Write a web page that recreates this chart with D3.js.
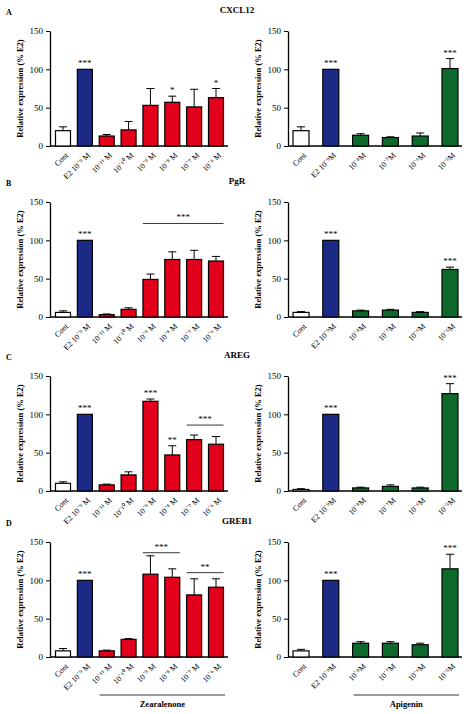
<!DOCTYPE html>
<html><head><meta charset="utf-8">
<script src="https://cdn.jsdelivr.net/npm/d3@7"></script>
<style>body{margin:0;background:#fff}text{font-family:"Liberation Serif","Times New Roman",serif}</style>
</head><body>
<script>
// categories
var leftCats = ['Cont', 'E2 10⁻⁹ M', '10⁻¹¹ M', '10⁻¹⁰ M', '10⁻⁹ M', '10⁻⁸ M', '10⁻⁷ M', '10⁻⁶ M'];
var rightCats = ['Cont', 'E2 10⁻⁹M', '10⁻⁸M', '10⁻⁷M', '10⁻⁶M', '10⁻⁵M'];
var genes = ['CXCL12', 'PgR', 'AREG', 'GREB1'];
var letters = ['A', 'B', 'C', 'D'];
var yTicks = [0, 50, 100, 150];

// left panels (zearalenone) mean / sem / star
var leftMean = [
    [20, 100, 13, 21, 53, 57, 51, 63],
    [6, 100, 3, 10, 49, 75, 75, 73],
    [10, 100, 8, 21, 117, 47, 67, 61],
    [8, 100, 8, 23, 108, 104, 81, 91]
];
var leftErr = [
    [5, 0, 2, 11, 22, 8, 23, 12],
    [2, 0, 1, 2, 7, 10, 12, 6],
    [2, 0, 1, 4, 3, 12, 6, 10],
    [3, 0, 1, 1, 24, 11, 21, 11]
];
var leftStar = [
    ['', '***', '', '', '', '*', '', '*'],
    ['', '***', '', '', '', '', '', ''],
    ['', '***', '', '', '***', '**', '', ''],
    ['', '***', '', '', '', '', '', '']
];
// bracket lines: [row, from index, to index, label, y value]
var leftLines = [
    [1, 4, 7, '***', 122],
    [2, 6, 7, '***', 86],
    [3, 4, 5, '***', 136],
    [3, 6, 7, '**', 110]
];

// right panels (apigenin)
var rightMean = [
    [20, 100, 14, 11, 13, 101],
    [6, 100, 8, 9, 6, 62],
    [2, 100, 4, 6, 4, 127],
    [8, 100, 18, 18, 16, 115]
];
var rightErr = [
    [5, 0, 2, 1, 4, 13],
    [1, 0, 1, 1, 1, 3],
    [1, 0, 1, 2, 1, 13],
    [2, 0, 2, 2, 2, 19]
];
var rightStar = [
    ['', '***', '', '', '', '***'],
    ['', '***', '', '', '', '***'],
    ['', '***', '', '', '', '***'],
    ['', '***', '', '', '', '***']
];

var W = 474, H = 714;
var rowTop = [31, 202, 376, 542];
var plotH = 115;
var blue = '#1b2a85', red = '#e2001a', green = '#0d6a2c';

var svg = d3.select('body').append('svg').attr('width', W).attr('height', H);

genes.forEach(function (g, r) {

    var titleY = rowTop[r] - 18;
    svg.append('text').attr('x', 237).attr('y', titleY).attr('text-anchor', 'middle')
        .attr('font-size', 9).attr('font-weight', 'bold').text(g);
    svg.append('text').attr('x', 6).attr('y', titleY + 2).attr('font-size', 8)
        .attr('font-weight', 'bold').text(letters[r]);

    panel(r, leftCats, leftMean[r], leftErr[r], leftStar[r], 50, 228, 15, 'left');
    panel(r, rightCats, rightMean[r], rightErr[r], rightStar[r], 288, 462, 16, 'right');
});

function panel(r, cats, mean, err, stars, x0, x1, bw, side) {

    var top = rowTop[r];
    var y = d3.scaleLinear().domain([0, 150]).range([top + plotH, top]);
    var x = d3.scalePoint().domain(cats).range([x0 + 13, x1 - 12]);
    var g = svg.append('g');

    g.append('g').attr('transform', 'translate(' + x0 + ',0)')
        .call(d3.axisLeft(y).tickValues(yTicks).tickSize(4).tickSizeOuter(0))
        .call(function (a) {
            a.selectAll('text').attr('font-size', 9).attr('font-family', '"Liberation Serif",serif');
            a.select('.domain').attr('stroke-width', 1.3);
        });
    g.append('line').attr('x1', x0).attr('x2', x1).attr('y1', y(0)).attr('y2', y(0))
        .attr('stroke', '#000').attr('stroke-width', 1.3);

    g.append('text').attr('transform', 'translate(' + (x0 - 27) + ',' + (top + plotH / 2) + ') rotate(-90)')
        .attr('text-anchor', 'middle').attr('font-size', 8.5).attr('font-weight', 'bold')
        .text('Relative expression (% E2)');

    cats.forEach(function (c, i) {
        var fill = i === 0 ? '#fff' : i === 1 ? blue : (side === 'left' ? red : green);
        var cx = x(c);
        if (err[i] > 0) {
            g.append('line').attr('x1', cx).attr('x2', cx).attr('y1', y(mean[i])).attr('y2', y(mean[i] + err[i]))
                .attr('stroke', '#000').attr('stroke-width', 1);
            g.append('line').attr('x1', cx - 4).attr('x2', cx + 4).attr('y1', y(mean[i] + err[i])).attr('y2', y(mean[i] + err[i]))
                .attr('stroke', '#000').attr('stroke-width', 1);
        }
        g.append('rect').attr('x', cx - bw / 2).attr('width', bw).attr('y', y(mean[i]))
            .attr('height', y(0) - y(mean[i])).attr('fill', fill).attr('stroke', '#000').attr('stroke-width', 1.2);
        if (stars[i]) {
            g.append('text').attr('x', cx).attr('y', y(mean[i] + err[i]) - 3).attr('text-anchor', 'middle')
                .attr('font-size', 9).text(stars[i]);
        }
        g.append('text').attr('transform', 'translate(' + (cx + 3) + ',' + (y(0) + 7) + ') rotate(-45)')
            .attr('text-anchor', 'end').attr('dy', '0.5em').attr('font-size', 8).text(c);
    });

    if (side === 'left') {
        leftLines.filter(function (l) { return l[0] === r; }).forEach(function (l) {
            var xa = x(cats[l[1]]) - bw / 2, xb = x(cats[l[2]]) + bw / 2;
            g.append('line').attr('x1', xa).attr('x2', xb).attr('y1', y(l[4])).attr('y2', y(l[4]))
                .attr('stroke', '#000').attr('stroke-width', 0.8);
            g.append('text').attr('x', (xa + xb) / 2).attr('y', y(l[4]) - 3).attr('text-anchor', 'middle')
                .attr('font-size', 9).text(l[3]);
        });
    }

    if (r === 3) {
        var lx0 = side === 'left' ? x(cats[2]) - 7 : x(cats[2]) - 7;
        var lx1 = x1 - 3;
        svg.append('line').attr('x1', lx0).attr('x2', lx1).attr('y1', 695).attr('y2', 695)
            .attr('stroke', '#000').attr('stroke-width', 0.8);
        svg.append('text').attr('x', (lx0 + lx1) / 2).attr('y', 707).attr('text-anchor', 'middle')
            .attr('font-size', 8.5).attr('font-weight', 'bold')
            .text(side === 'left' ? 'Zearalenone' : 'Apigenin');
    }
}
</script>
</body></html>
